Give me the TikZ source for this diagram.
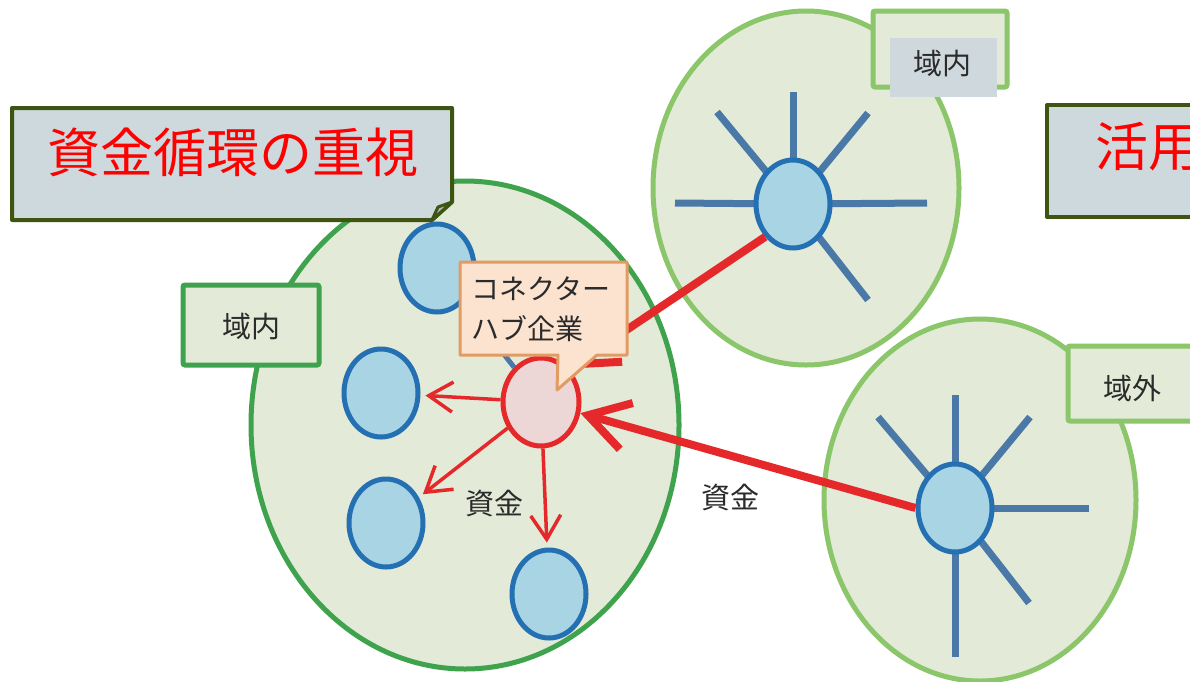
\documentclass[tikz,border=0pt]{standalone}
\usepackage{fontspec}
\setmainfont{Noto Sans CJK JP}
\usetikzlibrary{shapes.geometric,arrows.meta}
\definecolor{regfill}{HTML}{E3EAD7}
\definecolor{darkgreen}{HTML}{3FA34D}
\definecolor{lightgreen}{HTML}{8BC66A}
\definecolor{cfill}{HTML}{A8D4E3}
\definecolor{cborder}{HTML}{2470B3}
\definecolor{spoke}{HTML}{4A79A8}
\definecolor{hubred}{HTML}{E5282A}
\definecolor{hubfill}{HTML}{EDD6D6}
\definecolor{calgray}{HTML}{CED9DE}
\definecolor{calborder}{HTML}{3E5411}
\definecolor{foldgray}{HTML}{AEB9BD}
\definecolor{peach}{HTML}{FCE3D0}
\definecolor{peachborder}{HTML}{E29B62}
\definecolor{labgray}{HTML}{CFD8DC}
\definecolor{txt}{HTML}{2B2B2B}
\begin{document}
\begin{tikzpicture}[x=1pt,y=-1pt,
  region/.style={ellipse, fill=regfill, line width=5pt, inner sep=0pt},
  small/.style={ellipse, draw=cborder, fill=cfill, line width=5pt, minimum width=74pt, minimum height=88pt, inner sep=0pt},
  hubnode/.style={ellipse, draw=hubred, fill=hubfill, line width=5pt, minimum width=76pt, minimum height=88pt, inner sep=0pt},
  spokeline/.style={draw=spoke, line width=7pt},
  thinarrow/.style={draw=hubred, line width=3.5pt, shorten >=5pt, -{Straight Barb[length=24pt,width=30pt]}},
  thickarrow/.style={draw=hubred, line width=8pt, -{Straight Barb[length=40pt,width=48pt]}},
  labeltext/.style={text=txt, font=\fontsize{29pt}{35pt}\selectfont, inner sep=0pt},
  calltext/.style={text=txt, font=\fontsize{28pt}{34pt}\selectfont, inner sep=0pt, anchor=west},
  titletext/.style={text=red, font=\fontsize{53pt}{60pt}\selectfont, inner sep=0pt},
  areabox/.style={fill=regfill, line width=5pt, rounded corners=2pt},
  callout/.style={fill=calgray, draw=calborder, line width=4pt, line join=round}
]
\useasboundingbox (0,0) rectangle (1190,681);
\clip (0,0) rectangle (1190,681);
\fill[white] (0,0) rectangle (1190,681);

% regions
\node[region, draw=lightgreen, minimum width=306pt, minimum height=354pt] (RT) at (806,188) {};
\node[region, draw=lightgreen, minimum width=312pt, minimum height=362pt] (RB) at (980,500) {};
\node[region, draw=darkgreen, minimum width=428pt, minimum height=488pt] (RL) at (465,425) {};

% area labels
\draw[areabox, draw=darkgreen] (183,285) rectangle (319,365);
\node[labeltext] (lblL) at (251,326) {域内};
\draw[areabox, draw=lightgreen] (873,11) rectangle (1007,87);
\fill[labgray] (890,38) rectangle (997,97);
\node[labeltext] (lblT) at (942,64) {域内};
\draw[areabox, draw=lightgreen] (1068,346) rectangle (1200,421);
\node[labeltext] (lblB) at (1132,388) {域外};

% spokes
\coordinate (trc) at (793,204);
\coordinate (brc) at (955,508);
\foreach \x/\y in {793/92, 717/112, 868/113, 675/203, 927/203, 868/300}
  \draw[spokeline] (trc) -- (\x,\y);
\foreach \x/\y in {955/395, 878/417, 1030/417, 1089/508, 1029/603, 955/657}
  \draw[spokeline] (brc) -- (\x,\y);

% circles
\node[small] (TRH) at (trc) {};
\node[small] (BRH) at (brc) {};
\node[small] (C1) at (437,268) {};
\node[small] (C2) at (381,393) {};
\node[small] (C3) at (386,523) {};
\node[small] (C4) at (549,594) {};
\node[hubnode] (H) at (541,402) {};

% links
\draw[spoke, line width=5pt] (C1) -- (H);
\draw[thinarrow] (H) -- (C2);
\draw[thinarrow] (H) -- (C3);
\draw[thinarrow] (H) -- (C4);
\draw[thickarrow] (BRH.west) -- (H);
\draw[thickarrow] (TRH.south west) -- (H.50);

% hub callout
\draw[fill=peach, draw=peachborder, line width=3pt, line join=round]
  (460,262) -- (627,262) -- (627,355) -- (597,355) -- (557,390) -- (558,355) -- (460,355) -- cycle;
\node[calltext] (hub1) at (471,289) {コネクター};
\node[calltext] (hub2) at (471,329) {ハブ企業};

% money labels
\node[labeltext] (m1) at (494,503) {資金};
\node[labeltext] (m2) at (730,497) {資金};

% title callouts
\draw[callout] (12,108) -- (452,108) -- (452,202) -- (432,220) -- (12,220) -- cycle;
\draw[fill=foldgray, draw=calborder, line width=3pt, line join=round] (432,220) -- (438,207) -- (452,202) -- cycle;
\node[titletext] (title) at (233,152) {資金循環の重視};
\draw[callout] (1047,105) -- (1210,105) -- (1210,217) -- (1047,217) -- cycle;
\node[titletext, anchor=west] (title2) at (1095,147) {活用};
\end{tikzpicture}
\end{document}
